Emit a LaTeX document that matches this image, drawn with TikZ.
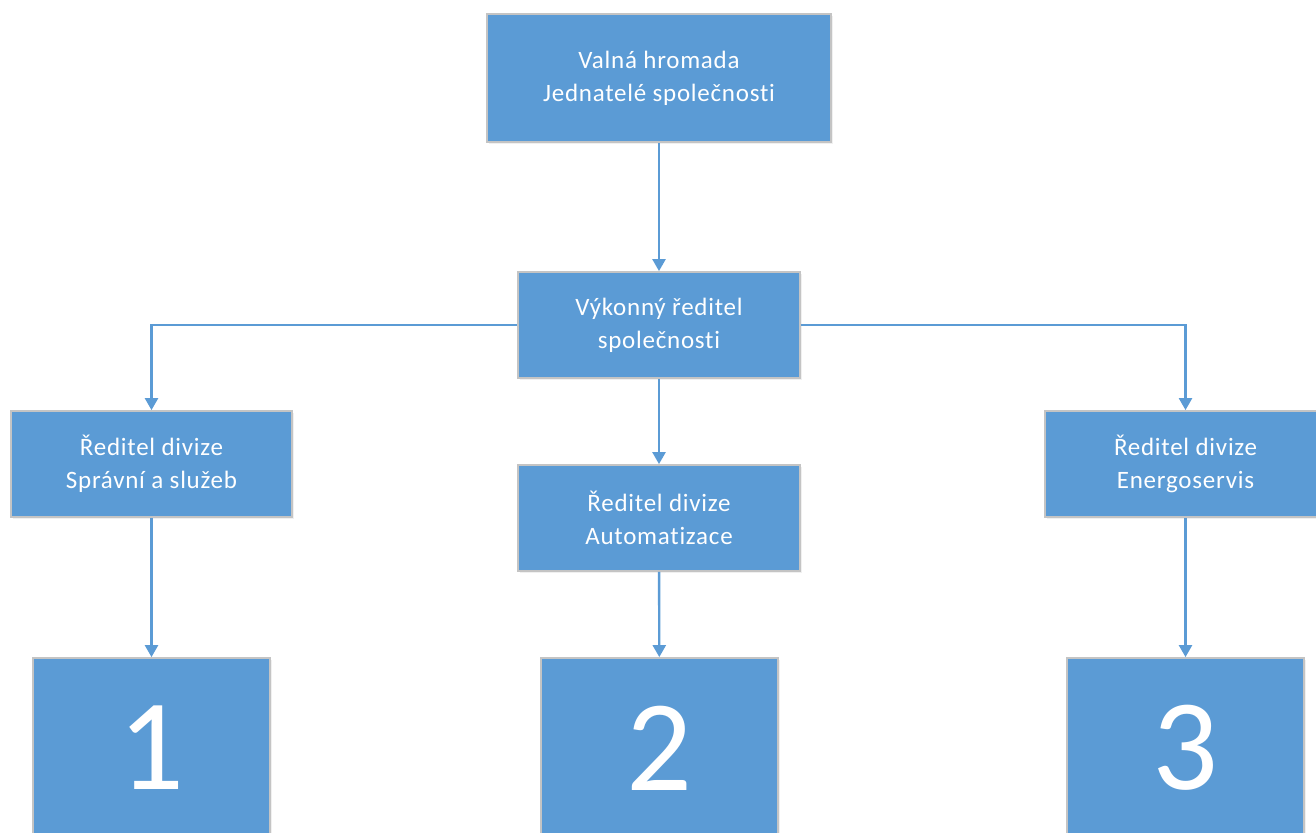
\documentclass[tikz,border=0pt]{standalone}
\usepackage{fontspec}
\setmainfont{Carlito}[Ligatures=NoCommon,LetterSpace=3]
\newfontfamily\digitfont{Carlito}[Ligatures=NoCommon]
\usetikzlibrary{arrows.meta}
\usetikzlibrary{shadows}

\definecolor{unitblue}{HTML}{5B9BD5}
\definecolor{unitrim}{HTML}{C4C4C4}

\tikzset{
    unitbox/.style={draw=unitrim,line width=0.9pt,fill=unitblue,text=white,
        align=center,inner sep=2pt,
        font=\fontsize{12.5}{16.5}\selectfont,
        drop shadow={opacity=0.12,shadow xshift=0.8pt,shadow yshift=-1.2pt}},
    numbox/.style={unitbox,minimum width=118.5pt,minimum height=90pt,
        font=\digitfont\fontsize{65}{70}\selectfont},
    link/.style={draw=unitblue,line width=1.2pt,
        -{Triangle[length=6pt,width=6.5pt]}}
}

\begin{document}
\begin{tikzpicture}[x=0.5pt,y=-0.5pt]%
        \clip (0,0) rectangle (1316,832);
        % vedeni
        \node[unitbox,minimum width=172pt,minimum height=64pt] (valna) at (659,78)
            {Valná hromada\\Jednatelé společnosti};
        \node[unitbox,minimum width=141pt,minimum height=53pt] (vykonny) at (659,325)
            {Výkonný ředitel\\společnosti};
        % divize
        \node[unitbox,minimum width=140.5pt,minimum height=53pt] (spravni) at (151.5,464)
            {Ředitel divize\\Správní a služeb};
        \node[unitbox,minimum width=141pt,minimum height=53pt] (automat) at (659,518)
            {Ředitel divize\\Automatizace};
        \node[unitbox,minimum width=140.5pt,minimum height=53pt] (energo) at (1185.5,464)
            {Ředitel divize\\Energoservis};
        % cisla
        \node[numbox] (jedna) at (151.5,748) {1};
        \node[numbox] (dva) at (659.5,748) {2};
        \node[numbox] (tri) at (1185.5,748) {3};
        % spoje
        \draw[link] (valna) -- (vykonny);
        \draw[link] (vykonny.west) -| (spravni);
        \draw[link] (vykonny.east) -| (energo);
        \draw[link] (vykonny) -- (automat);
        \draw[link] (spravni) -- (jedna);
        \draw[link] (automat) -- (dva);
        \draw[link] (energo) -- (tri);
    \end{tikzpicture}
\end{document}
